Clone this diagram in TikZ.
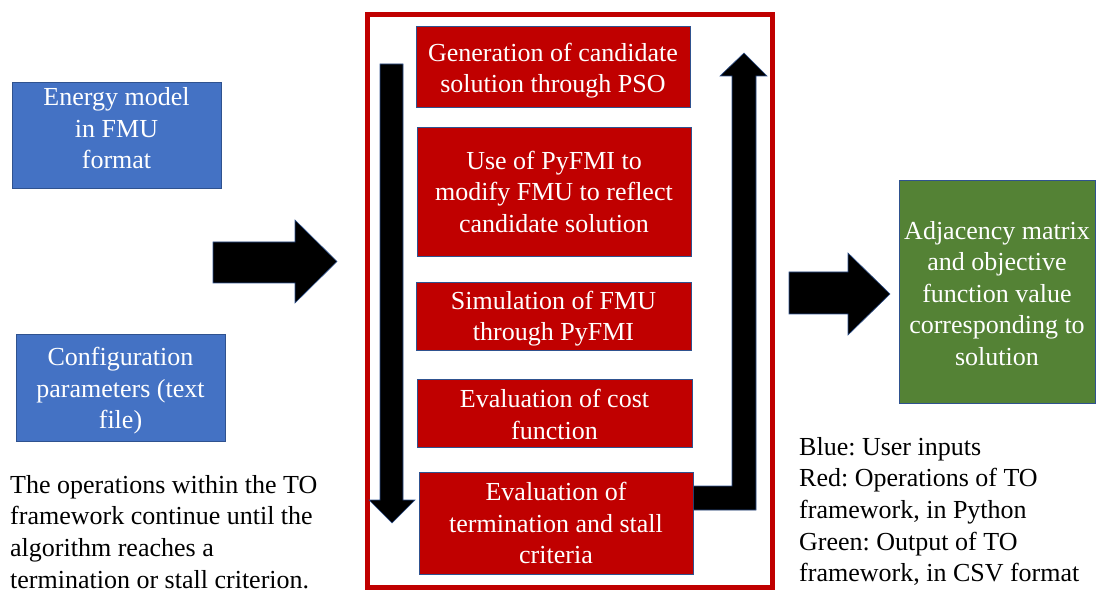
\documentclass[tikz,border=0pt]{standalone}
\usepackage{fontspec}
\setmainfont{Liberation Serif}
\frenchspacing
\definecolor{opred}{HTML}{C00000}
\definecolor{inblue}{HTML}{4472C4}
\definecolor{outgreen}{HTML}{548235}
\definecolor{edgeblue}{HTML}{2F528F}
% centred lines of a box; the optional argument moves them up or down inside the box
\newcommand\boxlines[2][-3pt]{\raisebox{#1}[\height][\depth]{\begin{tabular}{@{}c@{}}#2\end{tabular}}}
\begin{document}
\begin{tikzpicture}[x=1pt,y=-1pt,
  txt/.style={font=\fontsize{26}{31.6}\selectfont},
  box/.style={txt, draw=edgeblue, line width=0.8pt, text=white, inner sep=0pt},
  opbox/.style={box, fill=opred},
  inbox/.style={box, fill=inblue},
  outbox/.style={box, fill=outgreen},
  blockarrow/.style={fill=black, draw=edgeblue, line width=0.6pt},
  note/.style={txt, align=left, anchor=north west, inner sep=0pt}]
\useasboundingbox (0,0) rectangle (1102,593);

% framework enclosure
\node[draw=opred, line width=5pt, minimum width=405pt, minimum height=573pt] (frame) at (570,301) {};

% operations of the framework
\node[opbox, minimum width=274pt, minimum height=81pt]  (gen)  at (553,66.5)  {\boxlines[-4pt]{Generation of candidate\\solution through PSO}};
\node[opbox, minimum width=274pt, minimum height=129pt] (mod)  at (554,191.5) {\boxlines{Use of PyFMI to\\modify FMU to reflect\\candidate solution}};
\node[opbox, minimum width=275pt, minimum height=68pt]  (sim)  at (553.5,316) {\boxlines[-2.5pt]{Simulation of FMU\\through PyFMI}};
\node[opbox, minimum width=275pt, minimum height=68pt]  (cost) at (554.5,413) {\boxlines[-4pt]{Evaluation of cost\\function}};
\node[opbox, minimum width=274pt, minimum height=102pt] (term) at (556,523)   {\boxlines{Evaluation of\\termination and stall\\criteria}};

% user inputs
\node[inbox, minimum width=209pt, minimum height=106pt] (fmu)  at (116.5,135)  {\boxlines[4pt]{Energy model\\in FMU\\format}};
\node[inbox, minimum width=209pt, minimum height=107pt] (conf) at (120.5,387.5) {\boxlines[-3.5pt]{Configuration\\parameters (text\\file)}};

% output
\node[outbox, minimum width=196pt, minimum height=223pt] (out) at (997,291.5) {\boxlines[-4.5pt]{Adjacency matrix\\and objective\\function value\\corresponding to\\solution}};

% downward flow arrow along the operations
\draw[blockarrow] (380,64) -- (403,64) -- (403,500) -- (415,500) -- (392,523)
  -- (369,500) -- (380,500) -- cycle;

% loop-back arrow from the termination check up to the top
\draw[blockarrow] (term.east |- 0,486) -- (732,486) -- (732,76) -- (720,76) -- (744,53)
  -- (767,76) -- (756,76) -- (756,510) -- (term.east |- 0,510) -- cycle;

% inputs into the framework
\draw[blockarrow] (213,242) -- (295,242) -- (295,220) -- (337,261.5) -- (295,303)
  -- (295,283) -- (213,283) -- cycle;

% framework to output
\draw[blockarrow] (789,272) -- (848,272) -- (848,253) -- (890,294) -- (848,335)
  -- (848,314) -- (789,314) -- cycle;

% notes
\node[note] (loopnote) at (10,475) {The operations within the TO\\framework continue until the\\algorithm reaches a\\termination or stall criterion.};
\node[note] (legend) at (799,437) {Blue: User inputs\\Red: Operations of TO\\framework, in Python\\Green: Output of TO\\framework, in CSV format};
\end{tikzpicture}
\end{document}
